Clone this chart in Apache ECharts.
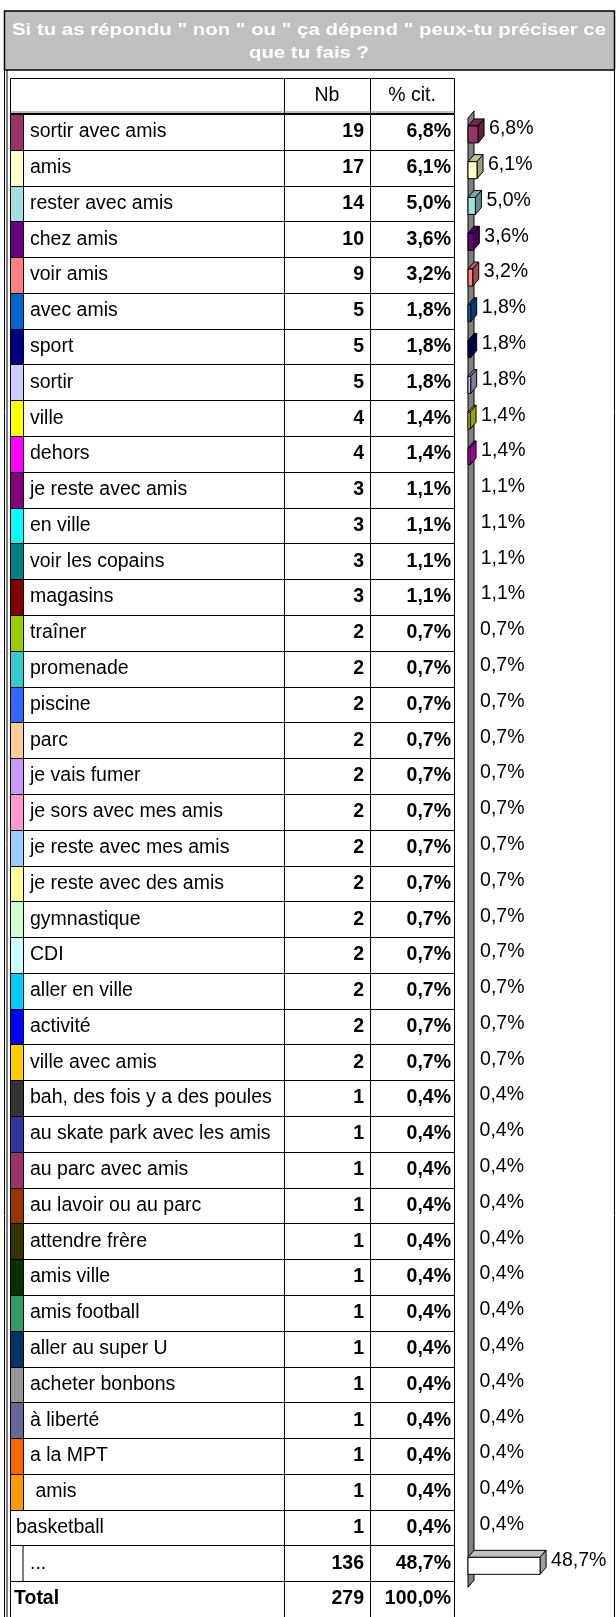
<!DOCTYPE html>
<html>
<head>
<meta charset="utf-8">
<script src="https://cdn.jsdelivr.net/npm/echarts@6.0.0/dist/echarts.min.js"></script>
<style>
html, body { margin: 0; padding: 0; background: #fff; }
#chart { width: 616px; height: 1617px; }
</style>
</head>
<body>
<div id="chart"></div>
<script>
// données
const titleLines = ['Si tu as répondu " non " ou " ça dépend " peux-tu préciser ce', 'que tu fais ?'];
const headers = ['Nb', '% cit.'];
const labels = [
  'sortir avec amis', 'amis', 'rester avec amis', 'chez amis', 'voir amis',
  'avec amis', 'sport', 'sortir', 'ville', 'dehors',
  'je reste avec amis', 'en ville', 'voir les copains', 'magasins', 'traîner',
  'promenade', 'piscine', 'parc', 'je vais fumer', 'je sors avec mes amis',
  'je reste avec mes amis', 'je reste avec des amis', 'gymnastique', 'CDI', 'aller en ville',
  'activité', 'ville avec amis', 'bah, des fois y a des poules', 'au skate park avec les amis', 'au parc avec amis',
  'au lavoir ou au parc', 'attendre frère', 'amis ville', 'amis football', 'aller au super U',
  'acheter bonbons', 'à liberté', 'a la MPT', ' amis', 'basketball',
  '...'
];
const counts = [19, 17, 14, 10, 9, 5, 5, 5, 4, 4, 3, 3, 3, 3, 2, 2, 2, 2, 2, 2, 2, 2, 2, 2, 2, 2, 2,
  1, 1, 1, 1, 1, 1, 1, 1, 1, 1, 1, 1, 1, 136];
const pcts = [6.8, 6.1, 5.0, 3.6, 3.2, 1.8, 1.8, 1.8, 1.4, 1.4, 1.1, 1.1, 1.1, 1.1,
  0.7, 0.7, 0.7, 0.7, 0.7, 0.7, 0.7, 0.7, 0.7, 0.7, 0.7, 0.7, 0.7,
  0.4, 0.4, 0.4, 0.4, 0.4, 0.4, 0.4, 0.4, 0.4, 0.4, 0.4, 0.4, 0.4, 48.7];
const colors = [
  '#993366', '#FFFFCC', '#A0E0E0', '#660080', '#FF8080',
  '#0066CC', '#000080', '#CCCCFF', '#FFFF00', '#FF00FF',
  '#800080', '#00FFFF', '#008080', '#800000', '#99CC00',
  '#33CCCC', '#3366FF', '#FFCC99', '#CC99FF', '#FF99CC',
  '#99CCFF', '#FFFF99', '#CCFFCC', '#CCFFFF', '#00CCFF',
  '#0000FF', '#FFCC00', '#333333', '#333399', '#993366',
  '#993300', '#333300', '#003300', '#339966', '#003366',
  '#969696', '#666699', '#FF6600', '#FF9900', null,
  '#FFFFFF'
];
const totalLabel = 'Total';
const totalCount = 279;
const totalPct = 100.0;

// mise en page
const FONT = '"Liberation Sans", Arial, sans-serif';
const ROW_TOP = 114, ROW_H = 35.86;
const NROWS = labels.length + 1;
const X_TABLE = 10, X_SW = 23, X_NB = 284, X_PCT = 370, X_END = 454;
const X_AXIS = 468, DX = 6, DY = 7;

function fmtPct (v) {
  return v.toFixed(1).replace('.', ',') + '%';
}

function shade (hex, f) {
  const n = parseInt(hex.slice(1), 16);
  const r = Math.round(((n >> 16) & 255) * f);
  const g = Math.round(((n >> 8) & 255) * f);
  const b = Math.round((n & 255) * f);
  return 'rgb(' + r + ',' + g + ',' + b + ')';
}

function renderRow (params, api) {
  const i = api.value(1);
  const c = api.coord([0, i])[1];
  const h = api.size([0, 1])[1];
  const y0 = Math.round(c - h / 2) + 0.5;
  const y1 = Math.round(c + h / 2) + 0.5;
  const isTotal = i === labels.length;
  const color = isTotal ? null : colors[i];
  const text = isTotal ? totalLabel : labels[i];
  const nb = isTotal ? totalCount : counts[i];
  const pct = isTotal ? totalPct : pcts[i];
  const cell = (xa, xb) => ({
    type: 'rect',
    shape: { x: xa + 0.5, y: y0, width: xb - xa, height: y1 - y0 },
    style: { fill: '#fff', stroke: '#000', lineWidth: 1 }
  });
  const kids = [cell(X_TABLE, X_NB), cell(X_NB, X_PCT), cell(X_PCT, X_END)];
  if (color) {
    const blank = color === '#FFFFFF';
    kids.push({
      type: 'rect',
      shape: { x: X_TABLE + 0.5, y: y0, width: X_SW - X_TABLE, height: y1 - y0 },
      style: { fill: color, stroke: '#000', lineWidth: 1 }
    });
    if (blank) {
      kids.push({
        type: 'line',
        shape: { x1: X_SW, y1: y0 + 1, x2: X_SW, y2: y1 - 1 },
        style: { stroke: '#808080', lineWidth: 2 }
      });
    }
  }
  const txt = (x, s, bold, align) => ({
    type: 'text',
    x: x,
    y: c,
    style: {
      text: s,
      font: (bold ? 'bold ' : '') + '19.5px ' + FONT,
      fill: '#000',
      align: align,
      verticalAlign: 'middle'
    }
  });
  kids.push(txt(isTotal ? 14 : (color ? 30 : 16), text, isTotal, 'left'));
  kids.push(txt(X_PCT - 6, String(nb), true, 'right'));
  kids.push(txt(X_END - 3, fmtPct(pct), true, 'right'));
  return { type: 'group', children: kids };
}

function renderBar (params, api) {
  const v = api.value(0);
  const i = api.value(1);
  const p0 = api.coord([0, i]);
  const p1 = api.coord([v, i]);
  const c = p0[1];
  const x0 = p0[0];
  const x1 = p1[0];
  const col = colors[i] || '#FFFFFF';
  const kids = [];
  const fy0 = c - 6, fy1 = c + 11;
  if (x1 - x0 >= 2) {
    kids.push({
      type: 'polygon',
      shape: { points: [[x0, fy0], [x1, fy0], [x1 + DX, fy0 - DY], [x0 + DX, fy0 - DY]] },
      style: { fill: shade(col, 0.75), stroke: '#000', lineWidth: 1 }
    });
    kids.push({
      type: 'polygon',
      shape: { points: [[x1, fy0], [x1 + DX, fy0 - DY], [x1 + DX, fy1 - DY], [x1, fy1]] },
      style: { fill: shade(col, 0.62), stroke: '#000', lineWidth: 1 }
    });
    kids.push({
      type: 'rect',
      shape: { x: x0, y: fy0, width: x1 - x0, height: fy1 - fy0 },
      style: { fill: col, stroke: '#000', lineWidth: 1 }
    });
  }
  kids.push({
    type: 'text',
    x: x1 + DX + 5,
    y: c - 3,
    style: {
      text: fmtPct(v),
      font: '19.5px ' + FONT,
      fill: '#000',
      align: 'left',
      verticalAlign: 'middle'
    }
  });
  return { type: 'group', children: kids };
}

const wallBottom = ROW_TOP + labels.length * ROW_H;

const chart = echarts.init(document.getElementById('chart'));
chart.setOption({
  animation: false,
  backgroundColor: '#fff',
  grid: { left: X_AXIS, top: ROW_TOP, width: 158, height: ROW_H * NROWS },
  xAxis: { type: 'value', min: 0, max: 100, show: false },
  yAxis: { type: 'category', inverse: true, show: false, data: labels.concat([totalLabel]) },
  graphic: [
    { type: 'line', z: 1, shape: { x1: 4.5, y1: 11, x2: 4.5, y2: 1617 }, style: { stroke: '#000', lineWidth: 1 } },
    { type: 'line', z: 1, shape: { x1: 7, y1: 70, x2: 7, y2: 1617 }, style: { stroke: '#000', lineWidth: 1 } },
    { type: 'line', z: 1, shape: { x1: 614.5, y1: 11, x2: 614.5, y2: 1617 }, style: { stroke: '#000', lineWidth: 1 } },
    { type: 'rect', z: 1, shape: { x: 4.5, y: 11, width: 610, height: 59 }, style: { fill: '#C0C0C0', stroke: '#000', lineWidth: 1.5 } },
    { type: 'text', z: 2, x: 309, y: 30, scaleX: 1.2,
      style: { text: titleLines[0], font: 'bold 17px ' + FONT, fill: '#fff', align: 'center', verticalAlign: 'middle' } },
    { type: 'text', z: 2, x: 309, y: 53, scaleX: 1.2,
      style: { text: titleLines[1], font: 'bold 17px ' + FONT, fill: '#fff', align: 'center', verticalAlign: 'middle' } },
    { type: 'rect', z: 1, shape: { x: X_TABLE + 0.5, y: 78.5, width: X_NB - X_TABLE, height: 35 }, style: { fill: '#fff', stroke: '#000', lineWidth: 1 } },
    { type: 'rect', z: 1, shape: { x: X_NB + 0.5, y: 78.5, width: X_PCT - X_NB, height: 35 }, style: { fill: '#fff', stroke: '#000', lineWidth: 1 } },
    { type: 'rect', z: 1, shape: { x: X_PCT + 0.5, y: 78.5, width: X_END - X_PCT, height: 35 }, style: { fill: '#fff', stroke: '#000', lineWidth: 1 } },
    { type: 'line', z: 1, shape: { x1: X_TABLE + 1, y1: 112, x2: X_END, y2: 112 }, style: { stroke: '#808080', lineWidth: 1 } },
    { type: 'text', z: 2, x: (X_NB + X_PCT) / 2, y: 96,
      style: { text: headers[0], font: '19.5px ' + FONT, fill: '#000', align: 'center', verticalAlign: 'middle' } },
    { type: 'text', z: 2, x: (X_PCT + X_END) / 2, y: 96,
      style: { text: headers[1], font: '19.5px ' + FONT, fill: '#000', align: 'center', verticalAlign: 'middle' } },
    // mur de l'axe
    { type: 'polygon', z: 1,
      shape: { points: [[X_AXIS, ROW_TOP + 4], [X_AXIS + DX, ROW_TOP - 3], [X_AXIS + DX, wallBottom - 4], [X_AXIS, wallBottom + 3]] },
      style: { fill: '#808080', stroke: '#000', lineWidth: 1 } }
  ],
  series: [
    {
      type: 'custom',
      name: 'table',
      silent: true,
      z: 3,
      clip: false,
      renderItem: renderRow,
      encode: { x: 0, y: 1 },
      data: labels.concat([totalLabel]).map((l, i) => [0, i])
    },
    {
      type: 'custom',
      name: '% cit.',
      silent: true,
      z: 5,
      clip: false,
      renderItem: renderBar,
      encode: { x: 0, y: 1 },
      data: pcts.map((v, i) => [v, i])
    }
  ]
});
</script>
</body>
</html>
